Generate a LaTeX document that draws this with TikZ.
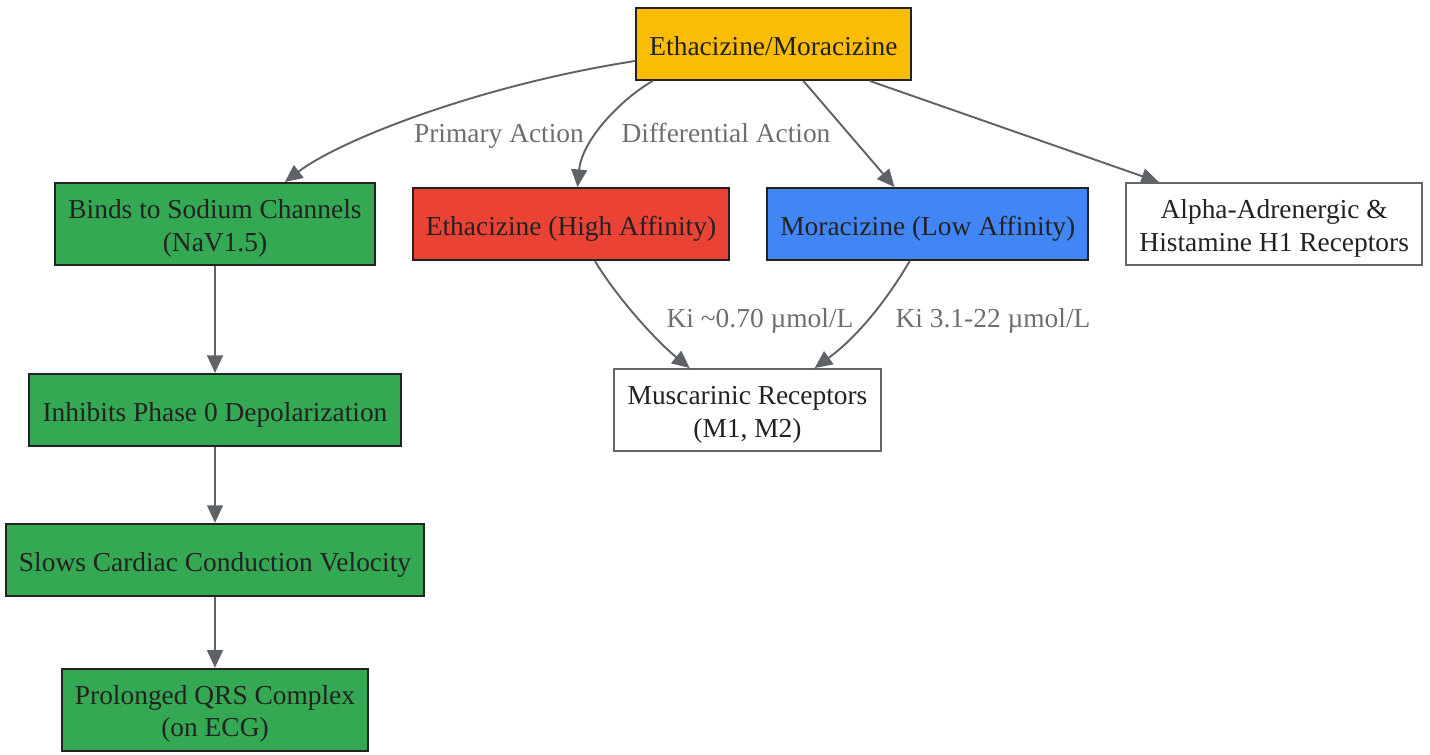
\documentclass[tikz,border=0pt]{standalone}
\usepackage{fontspec}
\setmainfont{Liberation Serif}
\usetikzlibrary{arrows.meta,calc,positioning}

\definecolor{drugamber}{HTML}{FBBC04}
\definecolor{ethared}{HTML}{EA4335}
\definecolor{morablue}{HTML}{4285F4}
\definecolor{pathgreen}{HTML}{34A853}
\definecolor{darkline}{HTML}{222222}
\definecolor{greyline}{HTML}{666666}
\definecolor{edgegrey}{HTML}{5F6368}
\definecolor{labelgrey}{HTML}{6B6E72}

\begin{document}
\begin{tikzpicture}[x=0.02cm,y=-0.02cm,node distance=0.72cm]
            \tikzstyle{box} = [draw=darkline,line width=1.1pt,rectangle,align=center,minimum height=1.44cm,inner xsep=7.5pt,inner ysep=4pt,text height=16.5pt,text depth=3.5pt,text=darkline,font=\fontsize{15.6}{18.7}\selectfont]
            \tikzstyle{tall} = [minimum height=1.64cm,text height=33pt,text depth=2pt]
            \tikzstyle{plain} = [box,draw=greyline,fill=white]
            \tikzstyle{edge} = [draw=edgegrey,line width=1.1pt,-{Triangle[length=10pt,width=9pt]}]
            \tikzstyle{lbl} = [text=labelgrey,text height=11pt,text depth=3.5pt,font=\fontsize{15.6}{18.7}\selectfont]

            \useasboundingbox (0,0) rectangle (1430,754);

            \node[box,fill=drugamber] (drug) at (773.5,44) {Ethacizine/Moracizine};
            \node[box,tall,fill=pathgreen] (binds) at (215,224) {Binds to Sodium Channels\\(NaV1.5)};
            \node[box,fill=ethared] (etha) [right=of binds] {Ethacizine (High Affinity)};
            \node[box,fill=morablue] (mora) [right=of etha] {Moracizine (Low Affinity)};
            \node[plain,tall] (alpha) [right=of mora] {Alpha-Adrenergic \&\\Histamine H1 Receptors};
            \node[plain,tall] (musc) at (747.5,410) {Muscarinic Receptors\\(M1, M2)};

            \node[box,fill=pathgreen] (phase) [below=2.14cm of binds] {Inhibits Phase 0 Depolarization};
            \node[box,fill=pathgreen] (slows) [below=1.52cm of phase] {Slows Cardiac Conduction Velocity};
            \node[box,tall,fill=pathgreen] (qrs) [below=1.42cm of slows] {Prolonged QRS Complex\\(on ECG)};

            % drug targets
            \draw[edge] (drug.187) .. controls (480,85) and (340,140) .. (binds.31);
            \draw[edge] (drug.197) .. controls (620,100) and (582,140) .. (etha.80);
            \draw[edge] (drug.309) -- (mora.132);
            \draw[edge] (drug.339.5) -- (alpha.160);
            \node[lbl] (primary-label) at (499,136) {Primary Action};
            \node[lbl] (diff-label) at (726,136) {Differential Action};

            % muscarinic affinity
            \draw[edge] (etha.303) .. controls (615,295) and (655,340) .. (musc.144);
            \draw[edge] (mora.244) .. controls (890,295) and (860,335) .. (musc.32);
            \node[lbl] (etha-ki) at (760,321) {Ki \textasciitilde0.70 µmol/L};
            \node[lbl] (mora-ki) at (993,321) {Ki 3.1-22 µmol/L};

            % conduction pathway
            \draw[edge] (binds) -- (phase);
            \draw[edge] (phase) -- (slows);
            \draw[edge] (slows) -- (qrs);
        \end{tikzpicture}
\end{document}
